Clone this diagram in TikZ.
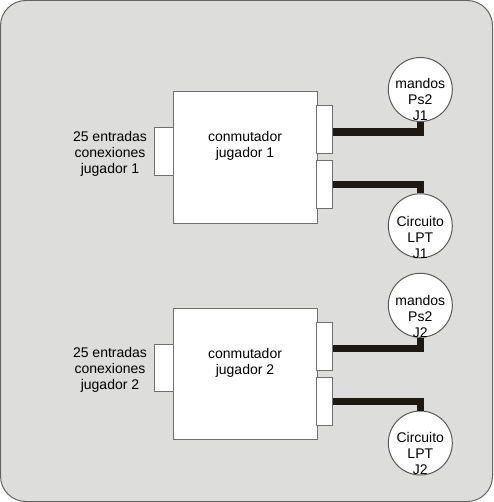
\documentclass[tikz,border=0pt]{standalone}
\usepackage{fontspec}
\setmainfont{Liberation Sans}
\usetikzlibrary{calc}
\usepackage{xcolor}

\tikzset{
  caja/.style={draw={rgb, 255:red, 112; green, 112; blue, 112}, fill=white, line width=0.75pt, minimum width=108pt, minimum height=98.5pt, inner sep=0pt},
  puerto/.style={draw={rgb, 255:red, 112; green, 112; blue, 112}, fill=white, line width=0.75pt, inner sep=0pt},
  mando/.style={circle, draw={rgb, 255:red, 90; green, 90; blue, 90}, fill=white, line width=0.75pt, minimum size=48pt, inner sep=0pt},
  cable/.style={line width=5.4pt, draw={rgb, 255:red, 28; green, 24; blue, 20}},
  texto/.style={align=center, inner sep=0.75pt, font=\fontsize{10.5}{12}\selectfont}
}

\begin{document}
\begin{tikzpicture}[x=0.75pt,y=0.75pt,yscale=-1,xscale=1]
\useasboundingbox (0,0) rectangle (493,502);

%Shape: Rounded Rect [id:fondo]
\draw [draw={rgb, 255:red, 100; green, 100; blue, 100}, fill={rgb, 255:red, 221; green, 221; blue, 220}, line width=0.75pt, rounded corners=19pt] (0.5,0.5) rectangle (492.5,501.5) ;

%Flowchart: Process [id:conmutador1]
\node [caja] (conm1) at (245,157.5) {};
%Flowchart: Process [id:conmutador2]
\node [caja, minimum height=98.25pt] (conm2) at (245,374) {};

%Flowchart: Process [id:entrada1]
\node [puerto, minimum width=14.25pt, minimum height=35.75pt] (ent1) at (163.8,151.2) {};
%Flowchart: Process [id:entrada2]
\node [puerto, minimum width=14.25pt, minimum height=35.75pt] (ent2) at (163.8,368) {};

%Flowchart: Process [id:salidas]
\node [puerto, minimum width=11.75pt, minimum height=35.7pt] (ps1) at (324.6,129.5) {};
\node [puerto, minimum width=11.75pt, minimum height=35.7pt] (lpt1) at (324.6,184.5) {};
\node [puerto, minimum width=11.75pt, minimum height=35.7pt] (ps2) at (324.6,346.2) {};
\node [puerto, minimum width=11.75pt, minimum height=35.7pt] (lpt2) at (324.6,401.2) {};

%Shape: Circle [id:mandos]
\node [mando] (mps1) at (420.3,89.5) {};
\node [mando] (clpt1) at (420.3,225.8) {};
\node [mando] (mps2) at (420.3,305.3) {};
\node [mando] (clpt2) at (420.3,443) {};

%Straight Lines [id:cables]
\draw [cable] ($(ps1.east)+(0,2.5)$) -| (mps1.south) ;
\draw [cable] (lpt1.east) -| (clpt1.north) ;
\draw [cable] ($(ps2.east)+(0,2.5)$) -| (mps2.south) ;
\draw [cable] (lpt2.east) -| (clpt2.north) ;

% Text Node
\node [texto] (tconm1) at (245,146) {conmutador\\jugador 1};
% Text Node
\node [texto] (tconm2) at (245,362.5) {conmutador\\jugador 2};
% Text Node
\node [texto] (tent1) at (110,153.5) {25 entradas\\conexiones\\jugador 1};
% Text Node
\node [texto] (tent2) at (110,370) {25 entradas\\conexiones\\jugador 2};
% Text Node
\node [texto] (tmps1) at (420.3,99) {mandos\\Ps2\\J1};
% Text Node
\node [texto] (tclpt1) at (420.3,237) {Circuito\\LPT\\J1};
% Text Node
\node [texto] (tmps2) at (420.3,316) {mandos\\Ps2\\J2};
% Text Node
\node [texto] (tclpt2) at (420.3,453.5) {Circuito\\LPT\\J2};

\end{tikzpicture}
\end{document}
